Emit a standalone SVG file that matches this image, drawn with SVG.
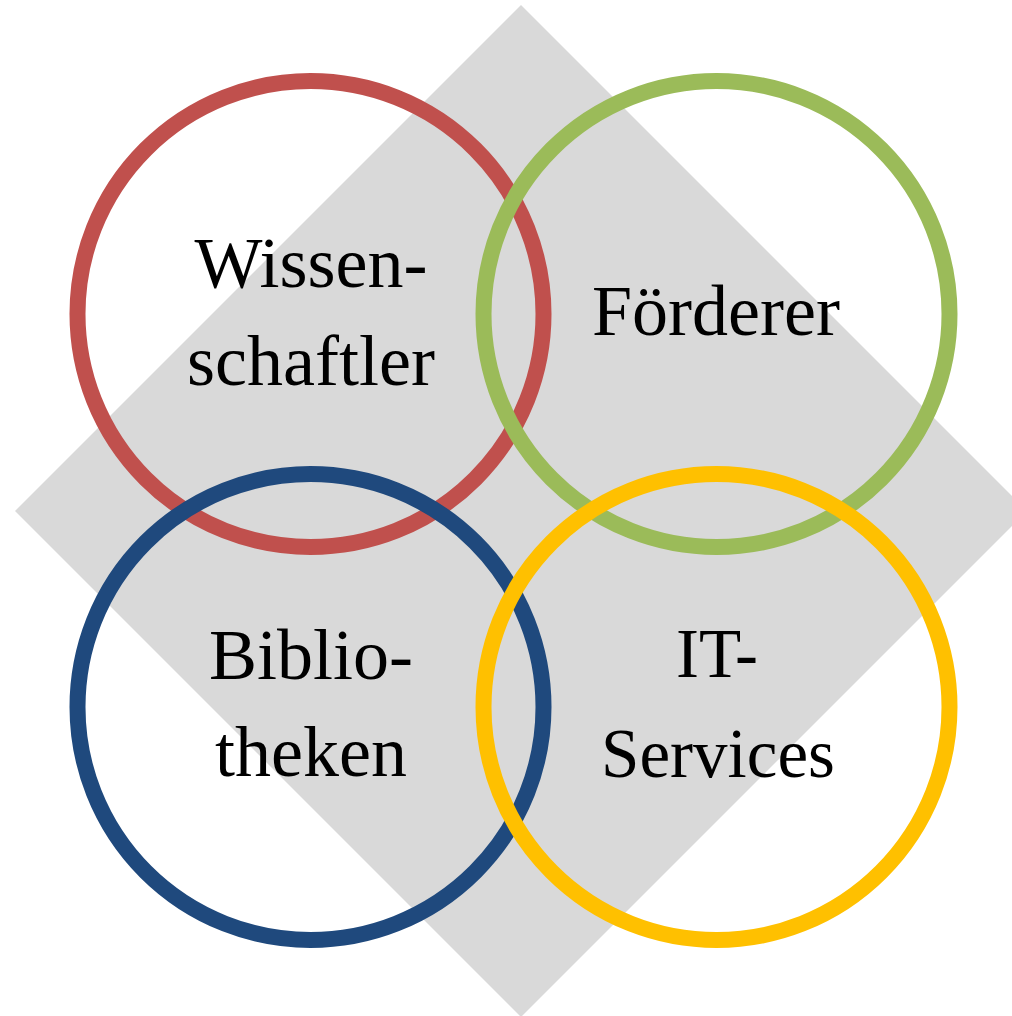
<svg xmlns="http://www.w3.org/2000/svg" width="1012" height="1016" viewBox="0 0 1012 1016">
<style>
.ring{fill:none;stroke-width:16}
.lbl{font-family:"Liberation Serif","Times New Roman",serif;font-size:72px;fill:#000;text-anchor:middle}
</style>
<rect width="1012" height="1016" fill="#ffffff"/>
<polygon id="diamond" points="521,5 1027,511 521,1017 15,511" fill="#D9D9D9"/>
<g id="connectors"></g>
<g id="node-wissenschaftler">
<circle class="ring" cx="310.5" cy="314" r="233" stroke="#C0504D"/>
<text class="lbl" x="311" y="287">Wissen-</text>
<text class="lbl" x="311" y="385">schaftler</text>
</g>
<g id="node-foerderer">
<circle class="ring" cx="716.5" cy="314" r="233" stroke="#9BBB59"/>
<text class="lbl" x="716" y="335">Förderer</text>
</g>
<g id="node-bibliotheken">
<circle class="ring" cx="310.5" cy="707" r="233" stroke="#1F497D"/>
<text class="lbl" x="311" y="679">Biblio-</text>
<text class="lbl" x="311" y="776">theken</text>
</g>
<g id="node-itservices">
<circle class="ring" cx="716.5" cy="707" r="233" stroke="#FFC000"/>
<text class="lbl" x="717" y="677" style="font-size:69px">IT-</text>
<text class="lbl" x="718" y="777" style="font-size:69px">Services</text>
</g>
</svg>
